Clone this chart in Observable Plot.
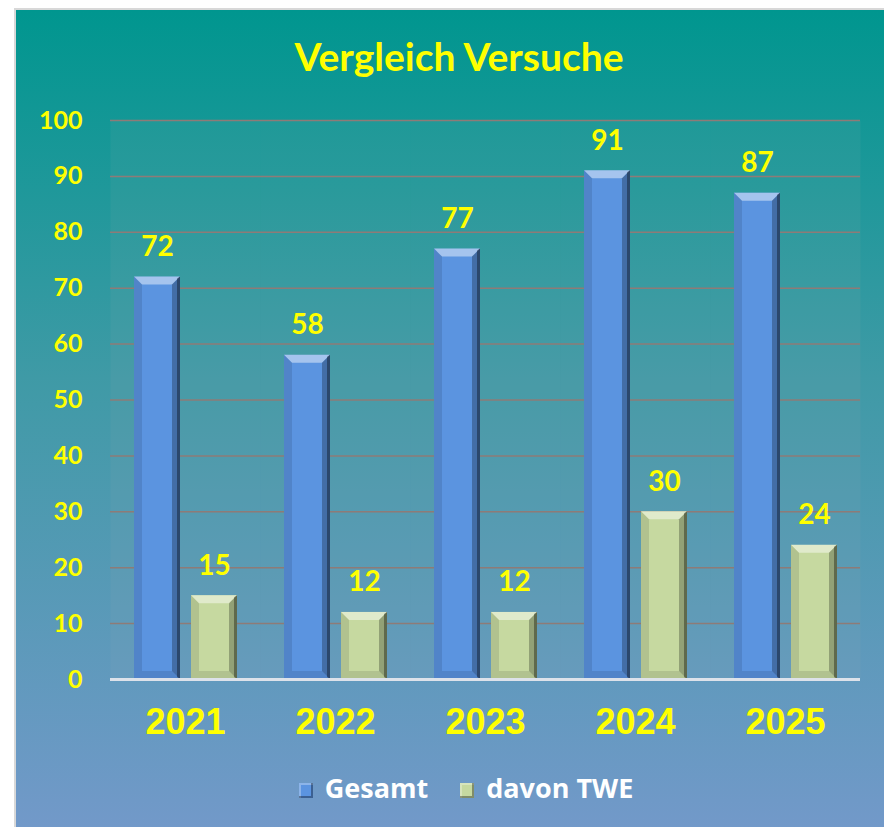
<!DOCTYPE html>
<html>
<head>
<meta charset="utf-8">
<script src="https://cdn.jsdelivr.net/npm/d3@7"></script>
<script src="https://cdn.jsdelivr.net/npm/@observablehq/plot@0.6"></script>
<style>
  html, body { margin: 0; padding: 0; background: #ffffff; }
  #box {
    position: absolute; left: 14px; top: 8px; width: 870px; height: 819px;
    background: linear-gradient(to bottom, #00968f 0%, #3f9aa6 45%, #7299c9 100%);
    border-left: 2px solid #d8d8d8; border-top: 2px solid #d8d8d8; box-sizing: border-box;
    overflow: hidden;
  }
  #title {
    position: absolute; left: 0; width: 886px; top: 22px; text-align: center;
    font: bold 39px Lato, "Open Sans", sans-serif; color: #ffff00; line-height: 48px;
  }
  #chart { position: absolute; left: -2px; top: 75px; }
  #legend {
    position: absolute; left: 0; width: 900px; top: 760px; text-align: center;
    font: bold 27px "Open Sans", Lato, sans-serif; color: #ffffff; line-height: 36px;
  }
  #legend .item { display: inline-block; margin: 0 16px; }
  #legend .sw {
    display: inline-block; width: 14px; height: 15px; margin-right: 12px; vertical-align: 0px;
    box-shadow: inset -2px -2px 0 rgba(0,0,0,0.35), inset 2px 2px 0 rgba(255,255,255,0.3);
  }
  #chart svg { background: transparent; overflow: visible; }
  #chart [aria-label="y-axis tick label"] text { fill: #ffff00; font: bold 25px Lato, "Open Sans", sans-serif; }
  #chart [aria-label="fx-axis tick label"] text { fill: #ffff00; font: bold 36px "Liberation Sans", Arial, sans-serif; }
</style>
</head>
<body>
<div id="box">
  <div id="title">Vergleich Versuche</div>
  <div id="chart"></div>
  <div id="legend"></div>
</div>
<script>
const years = ["2021", "2022", "2023", "2024", "2025"];
const series = ["Gesamt", "davon TWE"];
const gesamt = [72, 58, 77, 91, 87];
const davonTWE = [15, 12, 12, 30, 24];
const yTicks = [0, 10, 20, 30, 40, 50, 60, 70, 80, 90, 100];
const seriesColors = ["#5b94e0", "#c6d9a0"];

const rows = [];
years.forEach((y, i) => {
  rows.push({year: y, series: series[0], value: gesamt[i]});
  rows.push({year: y, series: series[1], value: davonTWE[i]});
});

function bevel(index, scales, values, dims, ctx, next) {
  const g = next(index, scales, values, dims, ctx);
  const sel = d3.select(g);
  const rects = [];
  sel.selectAll("rect").each(function () {
    const r = d3.select(this);
    rects.push({x: +r.attr("x"), y: +r.attr("y"), w: +r.attr("width"), h: +r.attr("height")});
  });
  const b = 8;
  rects.forEach(({x, y, w, h}) => {
    const poly = (pts, fill, op) => sel.append("polygon")
      .attr("points", pts.map(p => p.join(",")).join(" "))
      .attr("fill", fill).attr("fill-opacity", op);
    poly([[x, y], [x + w, y], [x + w - b, y + b], [x + b, y + b]], "#ffffff", 0.45);
    poly([[x, y], [x + b, y + b], [x + b, y + h - b], [x, y + h]], "#000000", 0.10);
    poly([[x + w, y], [x + w, y + h], [x + w - b, y + h - b], [x + w - b, y + b]], "#000000", 0.26);
    poly([[x, y + h], [x + b, y + h - b], [x + w - b, y + h - b], [x + w, y + h]], "#000000", 0.10);
    poly([[x + w - 3, y + 2], [x + w, y], [x + w, y + h], [x + w - 3, y + h - 2]], "#000000", 0.35);
  });
  return g;
}

const chart = Plot.plot({
  width: 870,
  height: 665,
  marginLeft: 95,
  marginRight: 23,
  marginTop: 35,
  marginBottom: 71,
  style: {background: "transparent", overflow: "visible"},
  fx: {domain: years, padding: 0, label: null, tickSize: 0, tickPadding: 29, axis: "bottom"},
  x: {domain: series, paddingInner: 0.2, paddingOuter: 0.4, axis: null},
  y: {domain: [0, 100], ticks: yTicks, label: null, tickSize: 0, tickPadding: 28, tickFormat: d => String(d)},
  color: {domain: series, range: seriesColors},
  marks: [
    Plot.frame({fill: "#b0b0b0", fillOpacity: 0.08, stroke: null}),
    Plot.ruleY(yTicks.filter(d => d > 0), {stroke: "#8e7b77", strokeWidth: 1.5}),
    Plot.barY(rows, {fx: "year", x: "series", y: "value", fill: "series", render: bevel}),
    Plot.ruleY([0], {stroke: "#dde2ea", strokeWidth: 3}),
    Plot.text(rows, {fx: "year", x: "series", y: "value", text: d => String(d.value), dy: -30,
      fill: "#ffff00", fontSize: 28, fontWeight: "bold", fontFamily: "Lato, 'Open Sans', sans-serif"})
  ]
});
document.getElementById("chart").appendChild(chart);

const legend = document.getElementById("legend");
series.forEach((s, i) => {
  const item = document.createElement("span");
  item.className = "item";
  const sw = document.createElement("span");
  sw.className = "sw";
  sw.style.background = seriesColors[i];
  item.appendChild(sw);
  item.appendChild(document.createTextNode(s));
  legend.appendChild(item);
});
</script>
</body>
</html>
